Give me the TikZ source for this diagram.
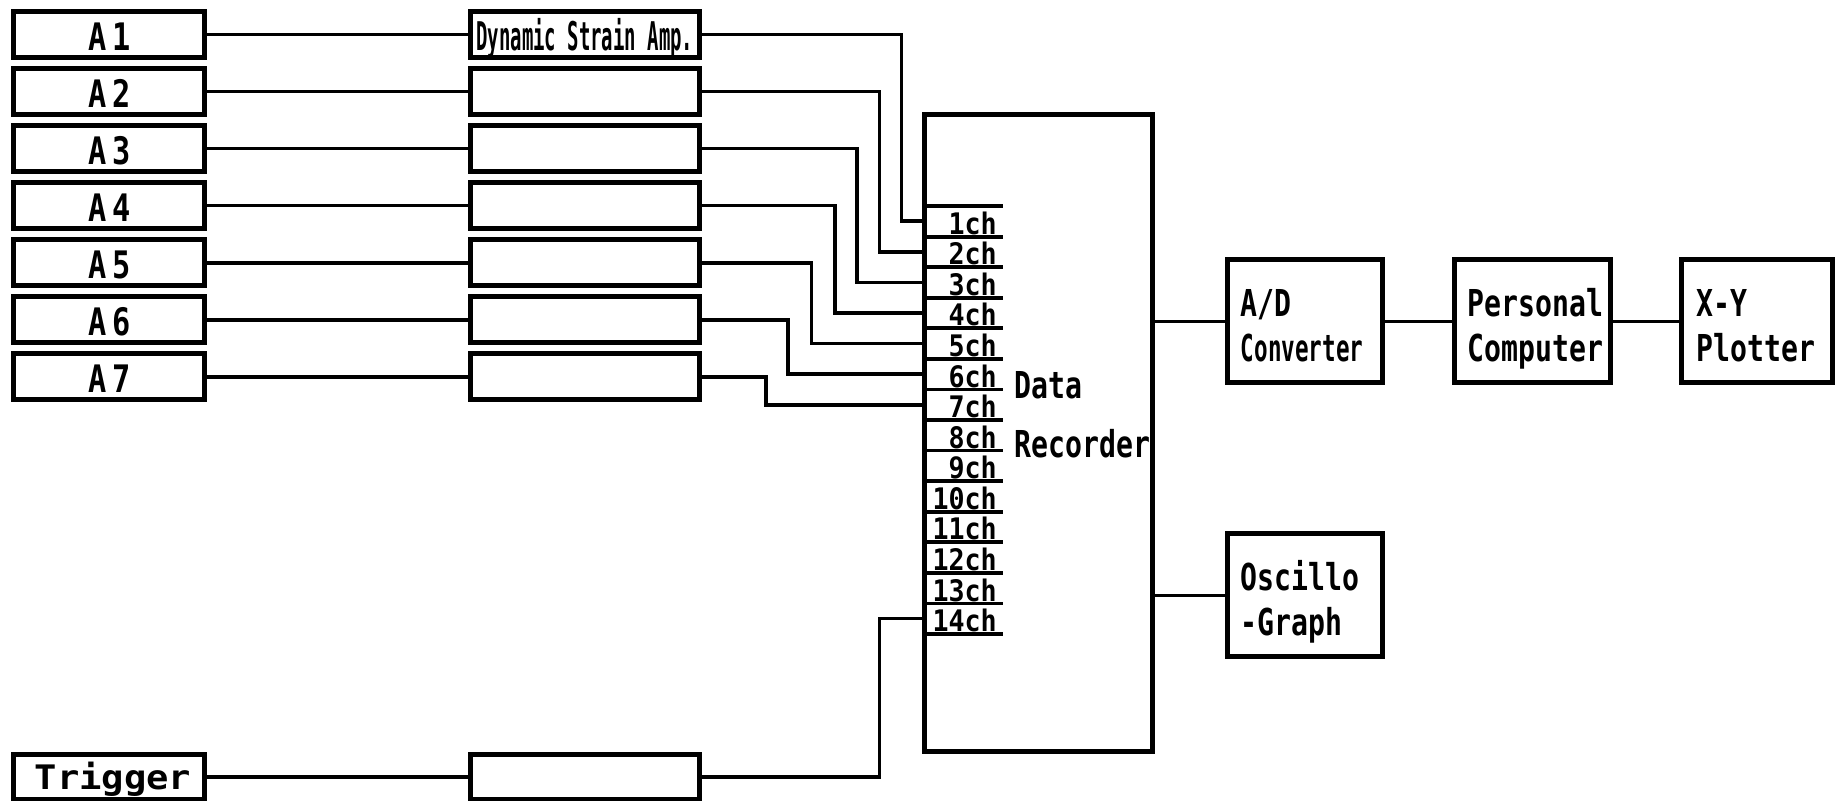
\documentclass[tikz,border=0pt]{standalone}
\usepackage{fontspec}
\newfontfamily\mfont[FakeStretch=0.76]{DejaVu Sans Mono}
\newfontfamily\cvfont[FakeStretch=0.61]{DejaVu Sans Mono}
\newfontfamily\ampfont[FakeStretch=0.48]{DejaVu Sans Mono}
\newfontfamily\labfont[FakeStretch=0.8]{DejaVu Sans Mono}
\newfontfamily\trgfont[FakeStretch=1.1]{DejaVu Sans Mono}
\newfontfamily\chfont[FakeStretch=0.9]{DejaVu Sans Mono}
\begin{document}
\begin{tikzpicture}[x=0.01cm, y=-0.01cm,
  box/.style={draw, line width=1.2pt, inner sep=0pt},
  abox/.style={box, minimum width=1.63cm, minimum height=0.39cm},
  mbox/.style={box, minimum width=1.95cm, minimum height=0.39cm},
  rbox/.style={box, minimum width=1.33cm, minimum height=1.05cm},
  wire/.style={line width=0.9pt},
  txt/.style={inner sep=0pt, font=\mfont\bfseries\fontsize{9}{10}\selectfont},
  cvtxt/.style={inner sep=0pt, font=\cvfont\bfseries\fontsize{9}{10}\selectfont},
  amptxt/.style={inner sep=0pt, font=\ampfont\bfseries\fontsize{9.6}{10}\selectfont},
  labtxt/.style={inner sep=0pt, font=\labfont\bfseries\fontsize{9.2}{10}\selectfont},
  trgtxt/.style={inner sep=0pt, font=\trgfont\bfseries\fontsize{8.2}{10}\selectfont},
  chtxt/.style={inner sep=0pt, font=\chfont\bfseries\fontsize{7.2}{8}\selectfont}]
\fill[white] (0,0) rectangle (1568,684);
\useasboundingbox (0,0) rectangle (1568,684);

% data recorder
\node[box, minimum width=1.94cm, minimum height=5.44cm] (dr) at (887,370) {};
\foreach \j in {0,...,14}
  \draw[wire] (790,{176+26.1*\j}) -- (857,{176+26.1*\j});
\foreach \j in {1,...,14}
  \node[chtxt, anchor=base east] (c\j) at (852,{176+26.1*\j-2}) {\j ch};
\node[txt, anchor=base west] (dt1) at (866,340) {Data};
\node[txt, anchor=base west] (dt2) at (866,391) {Recorder};

% sensor and amplifier rows
\foreach \k/\yc/\vx/\ey in {1/29.5/770/189, 2/78.2/751/215.1, 3/126.9/732/241.2,
    4/175.6/713/267.3, 5/224.3/693/293.4, 6/273/673/319.5, 7/321.7/654/345.6}{
  \node[abox] (a\k) at (93,\yc) {};
  \node[labtxt, anchor=base] (t\k) at (93.7,{\yc+13.5}) {A\kern1.6pt\k};
  \node[mbox] (m\k) at (499.5,\yc) {};
  \coordinate (in\k) at (790,\ey);
  \draw[wire] (a\k.east) -- (m\k.west);
  \draw[wire] (m\k.east) -| (\vx,\ey) -- (in\k);
}
\node[amptxt, anchor=base] (amplab) at (499.5,43.5) {Dynamic Strain Amp.};

% trigger row
\node[abox] (trg) at (93,663.5) {};
\node[trgtxt, anchor=base west] (trgt) at (29,674) {Trigger};
\node[mbox] (mt) at (499.5,663.5) {};
\coordinate (in14) at (790,528.3);
\draw[wire] (trg.east) -- (mt.west);
\draw[wire] (mt.east) -| (751,528.3) -- (in14);

% right side devices
\node[rbox] (ad) at (1114.5,274.5) {};
\node[rbox] (pc) at (1308.5,274.5) {};
\node[rbox, minimum width=1.29cm] (xy) at (1500.5,274.5) {};
\node[rbox] (os) at (1114.5,508.5) {};
\node[txt, anchor=base west] (adt1) at (1059,270) {A/D};
\node[cvtxt, anchor=base west] (adt2) at (1059,309) {Converter};
\node[txt, anchor=base west] (pct1) at (1253,270) {Personal};
\node[txt, anchor=base west] (pct2) at (1253,309) {Computer};
\node[txt, anchor=base west] (xyt1) at (1448,270) {X-Y};
\node[txt, anchor=base west] (xyt2) at (1448,309) {Plotter};
\node[txt, anchor=base west] (ost1) at (1059,504) {Oscillo};
\node[txt, anchor=base west] (ost2) at (1059,543) {-Graph};

\draw[wire] (dr.east |- ad.west) -- (ad.west);
\draw[wire] (ad.east) -- (pc.west);
\draw[wire] (pc.east) -- (xy.west);
\draw[wire] (dr.east |- os.west) -- (os.west);
\end{tikzpicture}
\end{document}
